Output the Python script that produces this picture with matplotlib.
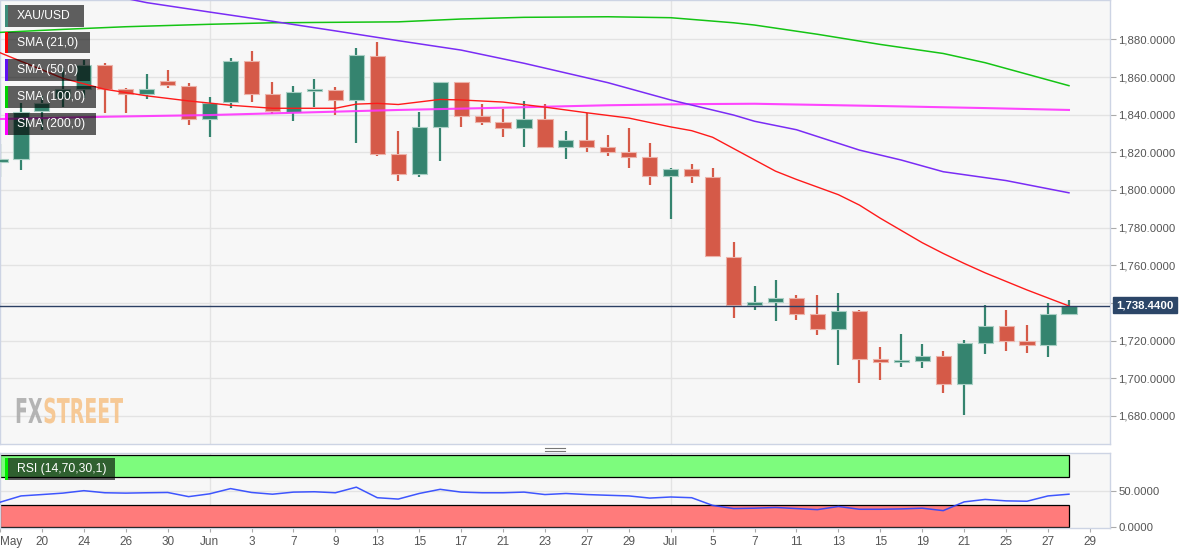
import matplotlib
matplotlib.use("Agg")
import matplotlib.pyplot as plt
from matplotlib.patches import Rectangle, PathPatch
from matplotlib.textpath import TextPath
from matplotlib.font_manager import FontProperties
from matplotlib.transforms import Affine2D
from matplotlib.ticker import FuncFormatter

plt.rcParams['font.family'] = ['Liberation Sans', 'DejaVu Sans']

# daily XAU/USD candles, one per trading day (18 May .. 28 Jul)
opens = [1815.0, 1816.5, 1841.9, 1849.0, 1853.5, 1866.4, 1853.5, 1850.8, 1857.9, 1855.4,
         1837.5, 1846.5, 1868.5, 1850.8, 1841.6, 1852.4, 1853.1, 1847.8, 1871.3, 1818.9,
         1808.3, 1833.6, 1857.5, 1839.3, 1836.1, 1832.7, 1837.5, 1822.6, 1826.5, 1822.6,
         1820.0, 1817.4, 1807.4, 1811.1, 1807.0, 1764.5, 1738.9, 1740.3, 1742.5, 1734.1,
         1726.1, 1735.6, 1710.0, 1708.5, 1709.3, 1711.6, 1696.8, 1718.9, 1727.7, 1719.8,
         1717.5, 1734.1]
highs = [1824.4, 1846.3, 1850.0, 1864.8, 1869.0, 1867.6, 1854.1, 1861.6, 1863.7, 1856.6,
         1849.5, 1870.2, 1874.0, 1857.5, 1855.2, 1858.9, 1854.5, 1875.2, 1878.7, 1831.3,
         1841.4, 1857.5, 1857.6, 1845.6, 1843.1, 1847.2, 1845.6, 1831.3, 1840.7, 1829.2,
         1832.9, 1824.9, 1811.7, 1813.8, 1811.7, 1772.4, 1749.0, 1752.2, 1744.2, 1744.2,
         1745.1, 1736.2, 1716.4, 1723.5, 1718.2, 1714.5, 1720.3, 1738.9, 1736.2, 1728.3,
         1739.8, 1741.5]
lows = [1806.9, 1810.6, 1832.0, 1844.0, 1849.0, 1840.7, 1840.7, 1848.1, 1854.0, 1834.6,
        1828.3, 1843.7, 1846.9, 1840.3, 1836.8, 1843.9, 1839.8, 1824.8, 1818.2, 1804.7,
        1807.0, 1815.5, 1833.6, 1834.5, 1828.3, 1823.0, 1822.4, 1816.6, 1820.3, 1818.2,
        1811.8, 1802.8, 1784.4, 1803.8, 1764.2, 1732.2, 1736.2, 1730.4, 1730.9, 1723.0,
        1707.0, 1697.6, 1699.0, 1706.0, 1705.3, 1692.3, 1680.5, 1712.9, 1714.6, 1713.5,
        1711.4, 1734.0]
closes = [1816.0, 1841.6, 1846.3, 1853.5, 1866.4, 1853.5, 1850.8, 1853.5, 1855.6, 1837.5,
          1846.3, 1868.5, 1850.8, 1841.9, 1852.2, 1853.1, 1847.8, 1871.5, 1818.9, 1808.5,
          1833.6, 1857.2, 1839.4, 1836.1, 1832.7, 1837.5, 1822.6, 1826.5, 1822.6, 1820.0,
          1817.7, 1807.4, 1811.1, 1807.4, 1764.9, 1738.9, 1740.3, 1742.5, 1734.1, 1726.1,
          1735.6, 1710.0, 1708.5, 1709.3, 1711.6, 1696.8, 1718.9, 1727.7, 1720.0, 1717.5,
          1734.1, 1738.44]
last_price = 1738.44

# moving averages (bar index, value)
sma21_bar = [0, 3, 5, 7, 9, 11, 13, 16, 17, 18, 19, 21, 22, 24, 26, 28, 30, 32, 33, 34,
             35, 37, 38, 40, 41, 42, 44, 45, 46, 47, 49, 51]
sma21_val = [1872.9, 1859.3, 1853.5, 1850.0, 1847.3, 1845.0, 1843.4, 1843.4, 1845.6, 1846.0,
             1845.4, 1848.1, 1847.8, 1846.7, 1844.0, 1841.0, 1838.2, 1833.5, 1831.5, 1828.0,
             1822.0, 1810.0, 1805.6, 1797.5, 1792.0, 1785.0, 1772.0, 1766.3, 1761.0, 1756.0,
             1746.9, 1738.4]
sma50_bar = [5, 7, 10, 13, 16, 19, 22, 25, 29, 32, 35, 36, 38, 41, 43, 45, 48, 51]
sma50_val = [1904.0, 1899.5, 1894.5, 1889.6, 1884.5, 1879.3, 1874.3, 1867.3, 1857.0, 1847.8,
             1839.8, 1836.5, 1832.0, 1821.2, 1815.9, 1809.7, 1805.0, 1798.5]
sma100_bar = [0, 3, 6, 10, 13, 19, 22, 25, 29, 32, 33, 35, 36, 39, 42, 45, 47, 49, 51]
sma100_val = [1883.7, 1885.3, 1886.7, 1888.0, 1888.8, 1889.3, 1890.8, 1891.7, 1892.0, 1891.5,
              1890.6, 1888.8, 1887.6, 1882.7, 1877.3, 1872.5, 1867.6, 1861.5, 1855.4]
sma200_bar = [0, 5, 10, 15, 19, 24, 29, 33, 36, 42, 47, 51]
sma200_val = [1837.7, 1838.9, 1839.8, 1841.3, 1842.5, 1843.7, 1845.0, 1845.6, 1845.8, 1844.6,
              1843.5, 1842.5]

rsi = [34.4, 43.2, 45.1, 47.1, 50.5, 47.6, 47.1, 47.6, 48.0, 42.2,
       46.1, 53.4, 48.0, 45.6, 48.5, 49.0, 47.6, 55.4, 40.7, 38.8,
       46.6, 52.4, 48.5, 47.6, 47.6, 48.5, 45.1, 46.6, 45.1, 44.1,
       43.2, 40.2, 41.7, 40.7, 30.0, 25.6, 26.1, 27.1, 25.6, 24.1,
       28.5, 24.6, 24.6, 25.1, 26.1, 22.7, 34.9, 38.3, 36.3, 35.8,
       43.2, 45.6]

tick_bars = list(range(0, 53, 2))
tick_labels = ['May', '20', '24', '26', '30', 'Jun', '3', '7', '9', '13', '15', '17', '21',
               '23', '27', '29', 'Jul', '5', '7', '11', '13', '15', '19', '21', '25', '27', '29']
month_bars = [10, 32]
price_ticks = list(range(1680, 1881, 20))

W, H = 1194, 554
GREEN, RED = '#35846f', '#d55a48'
GREEN_EDGE, RED_EDGE = '#a9cfc4', '#ecb3aa'
BG = '#f7f7f7'
GRID = '#e3e3e3'
SPINE = '#cdd4e4'


def fx(x):
    return x / W


def fy(y):
    return 1 - y / H


fig = plt.figure(figsize=(W / 100, H / 100), dpi=100)
fig.patch.set_facecolor('white')

ax = fig.add_axes([0, fy(444), fx(1110), 444 / H])
rax = fig.add_axes([0, fy(528), fx(1110), 75 / H])
xmax = 1110 / 20.96

for a in (ax, rax):
    a.set_facecolor(BG)
    a.set_xlim(0, xmax)
    for s in a.spines.values():
        s.set_color(SPINE)
        s.set_linewidth(1)
    for b in month_bars:
        a.axvline(b, color=GRID, lw=1, zorder=0)
    a.yaxis.tick_right()
    a.tick_params(axis='y', direction='out', length=4, color='#aaaaaa',
                  labelcolor='#555555', labelsize=8.2, pad=2)

# main price panel
ax.set_ylim(1665.1, 1900.9)
ax.set_yticks(price_ticks)
ax.yaxis.set_major_formatter(FuncFormatter(lambda v, p: f"{v:,.4f}"))
ax.set_xticks([])
for t in price_ticks:
    ax.axhline(t, color=GRID, lw=1, zorder=0)

for i in range(len(opens)):
    o, h, l, c = opens[i], highs[i], lows[i], closes[i]
    col, edge = (GREEN, GREEN_EDGE) if c >= o else (RED, RED_EDGE)
    ax.vlines(i, l, h, color=col, lw=1.6, zorder=2)
    ax.bar(i, max(abs(c - o), 1.4), bottom=min(o, c), width=0.72, color=col,
           edgecolor=edge, linewidth=0.8, zorder=3)

ax.plot(sma200_bar, sma200_val, color='#ff33ff', lw=1.5, alpha=0.9, zorder=4)
ax.plot(sma100_bar, sma100_val, color='#14c414', lw=1.1, zorder=4)
ax.plot(sma50_bar, sma50_val, color='#7a2cf5', lw=1.1, zorder=4)
ax.plot(sma21_bar, sma21_val, color='#ff1a1a', lw=1.0, zorder=4)

ax.axhline(last_price, color='#2b3f63', lw=1, zorder=5)
fig.text(fx(1145), fy(305), f"{last_price:,.4f}", color='white', fontsize=8.2,
         fontweight='bold', ha='center', va='center',
         bbox=dict(boxstyle='square,pad=0.28', facecolor='#2c4668', edgecolor='#2c4668'))

# RSI panel
rax.set_ylim(-1.5, 103)
rax.set_yticks([0, 50])
rax.yaxis.set_major_formatter(FuncFormatter(lambda v, p: f"{v:.4f}"))
rax.axhline(50, color=GRID, lw=1, zorder=0)
rax.add_patch(Rectangle((0, 70), len(rsi) - 1, 30, facecolor='#7dfc7d',
                        edgecolor='black', lw=0.9, zorder=1))
rax.add_patch(Rectangle((0, 0), len(rsi) - 1, 30, facecolor='#ff7b7b',
                        edgecolor='black', lw=0.9, zorder=1))
rax.plot(range(len(rsi)), rsi, color='#2a44ff', lw=1.1, alpha=0.9, zorder=3)
rax.set_xticks(tick_bars)
rax.set_xticklabels(tick_labels)
rax.tick_params(axis='x', direction='out', length=3, color='#aaaaaa',
                labelcolor='#555555', labelsize=8.5, pad=3)
rax.get_xticklabels()[0].set_ha('left')

# panel splitter handle
for yy in (447.5, 450.5):
    fig.add_artist(plt.Line2D([fx(545), fx(565)], [fy(yy), fy(yy)], color='#777777',
                              lw=0.8, transform=fig.transFigure))


# legend tags
def tag(y0, y1, x1, stripe, label):
    fig.add_artist(Rectangle((fx(5), fy(y1)), fx(x1 - 5), (y1 - y0) / H,
                             transform=fig.transFigure, facecolor='black',
                             alpha=0.62, lw=0, zorder=10))
    fig.add_artist(Rectangle((fx(5), fy(y1)), fx(2.5), (y1 - y0) / H,
                             transform=fig.transFigure, facecolor=stripe, lw=0, zorder=11))
    fig.text(fx(17), fy((y0 + y1) / 2), label, color='white', fontsize=8.7,
             va='center', ha='left', zorder=12)


tag(5, 26.7, 84, '#3d8c7a', 'XAU/USD')
tag(32, 53.3, 90, '#ff0000', 'SMA (21,0)')
tag(59, 80.7, 90, '#6010f0', 'SMA (50,0)')
tag(86, 107.7, 96, '#00d000', 'SMA (100,0)')
tag(113, 134.7, 96, '#ff00ff', 'SMA (200,0)')
tag(458, 480, 115, '#00ee00', 'RSI (14,70,30,1)')

# FXSTREET watermark, narrow bold lettering
fp = FontProperties(family='DejaVu Sans', weight='bold')
p1 = TextPath((0, 0), 'FX', size=1, prop=fp)
p2 = TextPath((0, 0), 'STREET', size=1, prop=fp)
w1 = p1.get_extents().x1
w2 = p2.get_extents().x1
sx = 107 / (w1 + w2)
sy = 25 / 0.73
base = H - 423
fig.add_artist(PathPatch(p1, transform=Affine2D().scale(sx, sy).translate(15, base),
                         facecolor='#a9a9a9', edgecolor='none', alpha=0.85))
fig.add_artist(PathPatch(p2, transform=Affine2D().scale(sx, sy).translate(15 + w1 * sx + 1, base),
                         facecolor='#f6c48c', edgecolor='none', alpha=0.9))

fig.savefig('out.png', dpi=100, facecolor='white')
